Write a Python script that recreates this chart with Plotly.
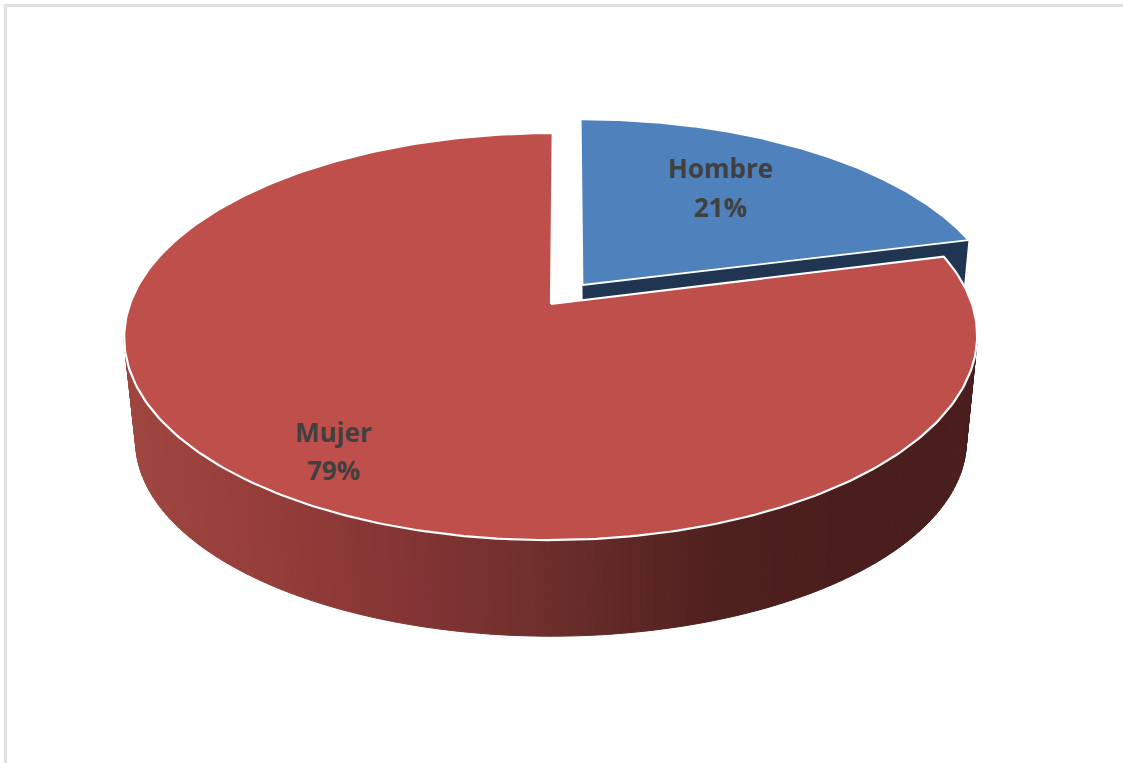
import numpy as np
import plotly.graph_objects as go

categories = ["Hombre", "Mujer"]
values = [21, 79]

BLUE, NAVY, RED = "#4F81BD", "#1F3552", "#BF4F4B"
TEXT = "#404040"
K = 0.16  # perspective strength of the tilted disc

HOMBRE_TOP = dict(cx=578.5, cy=286.5, a=418.0, b=194.0, lean=2.5, apex=(582.5, 285.0))
HOMBRE_BASE = dict(cx=578.5, cy=382.5, a=408.0, b=188.0, lean=2.5, apex=(583.0, 381.0))
MUJER_TOP = dict(cx=551.0, cy=304.0, a=421.0, b=198.3, lean=2.0, apex=(551.0, 304.0))
MUJER_BASE = dict(cx=551.0, cy=410.0, a=410.0, b=190.0, lean=0.0, apex=(551.0, 410.0))

SIDE_X = [125, 260, 400, 540, 720, 860, 977]
SIDE_R = [160, 150, 132, 110, 78, 74, 74]
SIDE_G = [70, 62, 53, 47, 32, 30, 30]
SIDE_B = [64, 58, 52, 44, 30, 29, 29]


def project(theta_deg, p):
    t = np.radians(theta_deg)
    x, y = np.sin(t), np.cos(t)
    w = 1 + K * y
    return p["cx"] + (p["a"] * x + p["lean"] * y) / w, p["cy"] - p["b"] * y / w


def wedge(t0, t1, p):
    th = np.linspace(t0, t1, 300)
    sx, sy = project(th, p)
    ax, ay = p["apex"]
    return np.r_[ax, sx, ax], np.r_[ay, sy, ay]


shares = np.array(values, dtype=float) / sum(values)
split = 360 * shares[0]
fig = go.Figure()


def poly(x, y, fill, line=None, width=0):
    fig.add_trace(go.Scatter(
        x=x, y=y, mode="lines", fill="toself", fillcolor=fill,
        line=dict(color=line or fill, width=width), hoverinfo="skip", showlegend=False))


# Hombre cut face, mostly hidden behind the larger slice
ex0, ey0 = project(split, HOMBRE_TOP)
ex1, ey1 = project(split, HOMBRE_BASE)
ax0, ay0 = HOMBRE_TOP["apex"]
ax1, ay1 = HOMBRE_BASE["apex"]
poly([ax0, ex0, ex1, ax1, ax0], [ay0, ey0, ey1, ay1, ay0], NAVY)
hx, hy = wedge(0, split, HOMBRE_TOP)
poly(hx, hy, BLUE, "white", 1.8)

# Mujer rim: strips shaded from left to right
edges = np.linspace(99.2, 260.8, 161)
for a0, a1 in zip(edges[:-1], edges[1:]):
    th = np.array([a0, a1])
    tx, ty = project(th, MUJER_TOP)
    bx, by = project(th, MUJER_BASE)
    mid = (tx.mean() + bx.mean()) / 2
    col = "rgb({:.0f},{:.0f},{:.0f})".format(
        np.interp(mid, SIDE_X, SIDE_R), np.interp(mid, SIDE_X, SIDE_G), np.interp(mid, SIDE_X, SIDE_B))
    poly([tx[0], tx[1], bx[1], bx[0], tx[0]], [ty[0], ty[1], by[1], by[0], ty[0]], col, col, 1)

mx, my = wedge(split, 360, MUJER_TOP)
poly(mx, my, RED, "white", 2.2)

labels = [
    (720, 168, categories[0]), (720, 207, f"{values[0]}%"),
    (333, 432, categories[1]), (333, 470, f"{values[1]}%"),
]
annotations = [dict(x=x, y=y, xref="x", yref="y", text=s, showarrow=False,
                    font=dict(family="Open Sans", size=26, color=TEXT, weight="bold"))
               for x, y, s in labels]

frame = dict(color="#E0E0E0", width=3)
fig.update_layout(
    width=1123, height=763, margin=dict(l=0, r=0, t=0, b=0),
    paper_bgcolor="white", plot_bgcolor="white", showlegend=False,
    xaxis=dict(range=[0, 1123], visible=False, fixedrange=True),
    yaxis=dict(range=[763, 0], visible=False, fixedrange=True),
    annotations=annotations,
    shapes=[dict(type="line", x0=5.5, x1=5.5, y0=4, y1=763, line=frame),
            dict(type="line", x0=4, x1=1123, y0=5.5, y1=5.5, line=frame)],
)
fig.write_html("out.html", config=dict(displayModeBar=False),
               post_script="document.body.style.margin='0';document.documentElement.style.overflow='hidden';")
